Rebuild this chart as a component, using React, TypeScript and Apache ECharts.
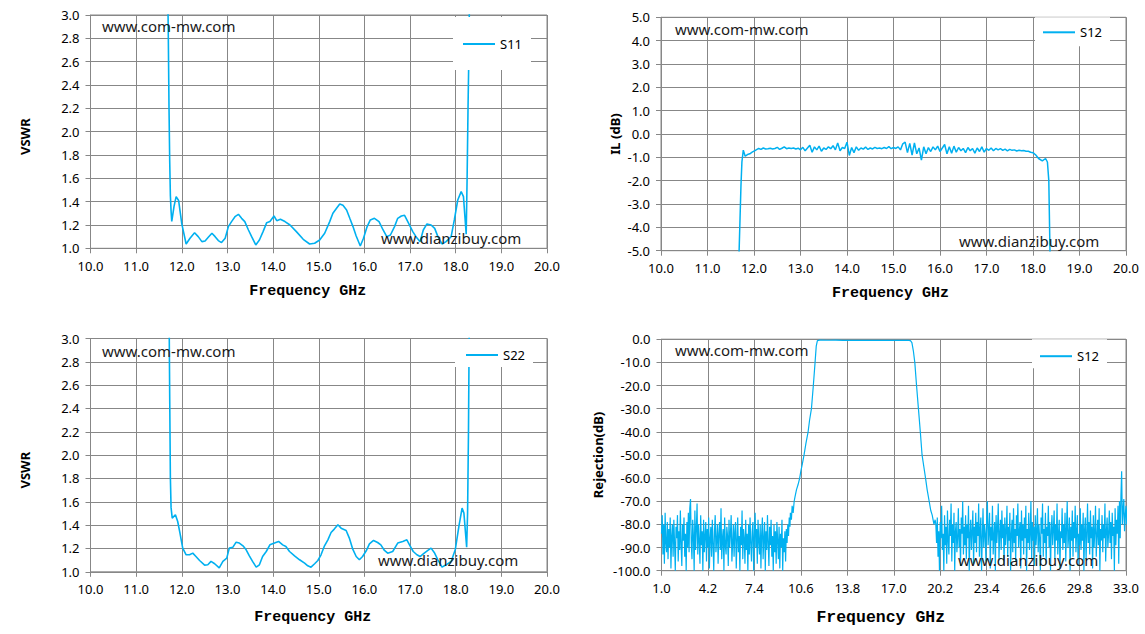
import React, { useEffect, useRef } from "react";
import * as echarts from "echarts";

// ---------------- DATA ----------------
const freqTicksVswr = { min: 10, max: 20, interval: 1 };

// S11 VSWR, [GHz, VSWR]
const s11Points: number[][] = [
  [11.69, 3.3], [11.705, 2.8], [11.72, 2.2], [11.735, 1.75], [11.75, 1.45], [11.765, 1.32], [11.78, 1.23],
  [11.83, 1.36], [11.876, 1.443], [11.93, 1.41], [12.0, 1.21], [12.095, 1.037], [12.18, 1.086], [12.28, 1.134],
  [12.36, 1.1], [12.44, 1.057], [12.51, 1.063], [12.58, 1.094], [12.66, 1.129], [12.73, 1.1], [12.8, 1.066],
  [12.87, 1.049], [12.95, 1.086], [13.02, 1.186], [13.09, 1.229], [13.165, 1.271], [13.24, 1.291], [13.31, 1.257],
  [13.38, 1.229], [13.46, 1.157], [13.53, 1.1], [13.62, 1.029], [13.7, 1.071], [13.78, 1.143], [13.86, 1.22],
  [13.93, 1.229], [14.02, 1.277], [14.08, 1.237], [14.16, 1.249], [14.26, 1.229], [14.37, 1.2], [14.51, 1.143],
  [14.66, 1.077], [14.8, 1.037], [14.91, 1.043], [15.02, 1.071], [15.13, 1.129], [15.24, 1.229], [15.31, 1.3],
  [15.39, 1.343], [15.46, 1.38], [15.53, 1.369], [15.61, 1.329], [15.68, 1.257], [15.75, 1.186], [15.82, 1.106],
  [15.91, 1.02], [15.98, 1.086], [16.06, 1.186], [16.13, 1.243], [16.22, 1.257], [16.32, 1.229], [16.41, 1.157],
  [16.49, 1.1], [16.57, 1.114], [16.66, 1.186], [16.73, 1.257], [16.81, 1.277], [16.88, 1.283], [16.95, 1.229],
  [17.06, 1.143], [17.13, 1.1], [17.22, 1.057], [17.29, 1.157], [17.37, 1.209], [17.46, 1.2], [17.54, 1.171],
  [17.61, 1.1], [17.7, 1.037], [17.79, 1.057], [17.9, 1.1], [17.97, 1.243], [18.045, 1.414], [18.12, 1.486],
  [18.17, 1.443], [18.23, 1.12], [18.25, 1.6], [18.27, 2.2], [18.29, 2.7], [18.305, 3.3],
];

// S22 VSWR, [GHz, VSWR]
const s22Points: number[][] = [
  [11.72, 3.3], [11.735, 2.5], [11.75, 1.8], [11.765, 1.55], [11.79, 1.46], [11.86, 1.489], [11.91, 1.431],
  [11.96, 1.331], [12.02, 1.203], [12.095, 1.146], [12.17, 1.146], [12.24, 1.16], [12.31, 1.131], [12.39, 1.097],
  [12.5, 1.057], [12.57, 1.06], [12.64, 1.089], [12.72, 1.069], [12.82, 1.034], [12.9, 1.089], [12.985, 1.117],
  [13.04, 1.203], [13.12, 1.211], [13.19, 1.254], [13.26, 1.246], [13.34, 1.223], [13.41, 1.189], [13.48, 1.137],
  [13.55, 1.089], [13.63, 1.04], [13.7, 1.06], [13.77, 1.131], [13.85, 1.174], [13.93, 1.231], [14.03, 1.246],
  [14.12, 1.26], [14.21, 1.231], [14.28, 1.217], [14.36, 1.174], [14.47, 1.137], [14.58, 1.103], [14.69, 1.074],
  [14.76, 1.051], [14.83, 1.04], [14.91, 1.069], [14.98, 1.097], [15.05, 1.146], [15.12, 1.217], [15.2, 1.274],
  [15.27, 1.337], [15.34, 1.366], [15.42, 1.403], [15.49, 1.374], [15.6, 1.354], [15.67, 1.289], [15.745, 1.194],
  [15.82, 1.131], [15.89, 1.103], [15.96, 1.131], [16.04, 1.18], [16.11, 1.24], [16.2, 1.269], [16.29, 1.251],
  [16.36, 1.231], [16.44, 1.183], [16.51, 1.16], [16.62, 1.174], [16.73, 1.246], [16.84, 1.26], [16.93, 1.274],
  [17.0, 1.223], [17.07, 1.174], [17.15, 1.146], [17.22, 1.131], [17.29, 1.154], [17.39, 1.183], [17.46, 1.203],
  [17.53, 1.166], [17.61, 1.103], [17.7, 1.04], [17.79, 1.06], [17.9, 1.089], [17.99, 1.189], [18.07, 1.389],
  [18.14, 1.546], [18.18, 1.503], [18.24, 1.21], [18.26, 1.5], [18.28, 2.2], [18.3, 3.3],
];

// S12 insertion loss (dB)
const ilLowEdge: number[][] = [
  [11.66, -5.6], [11.68, -5.0], [11.7, -3.6], [11.72, -2.2], [11.74, -1.2], [11.77, -0.69], [11.81, -0.95],
  [11.86, -0.88], [11.91, -0.85], [11.96, -0.78], [12.03, -0.7],
];
const ilRippleStart = 12.1; // GHz, sweep start of the ripple samples
const ilRippleStep = 0.05; // GHz, sweep step
const ilRipple: number[] = [
  -0.62, -0.66, -0.6, -0.64, -0.63, -0.61, -0.64, -0.62, -0.57, -0.66,
  -0.61, -0.55, -0.63, -0.6, -0.62, -0.6, -0.64, -0.61, -0.68, -0.57,
  -0.72, -0.6, -0.48, -0.78, -0.55, -0.68, -0.52, -0.74, -0.6, -0.66,
  -0.55, -0.63, -0.5, -0.68, -0.38, -0.72, -0.58, -0.62, -0.35, -0.92,
  -0.58, -0.8, -0.55, -0.7, -0.6, -0.65, -0.56, -0.66, -0.6, -0.64,
  -0.57, -0.62, -0.6, -0.63, -0.58, -0.62, -0.54, -0.63, -0.58, -0.62,
  -0.55, -0.68, -0.42, -0.35, -0.8, -0.4, -0.9, -0.38, -0.85, -0.6,
  -1.12, -0.55, -0.85, -0.58, -0.75, -0.55, -0.68, -0.52, -0.75, -0.6,
  -0.45, -0.85, -0.55, -0.82, -0.52, -0.78, -0.58, -0.72, -0.62, -0.8,
  -0.58, -0.72, -0.62, -0.82, -0.6, -0.75, -0.55, -0.78, -0.62, -0.7,
  -0.6, -0.72, -0.62, -0.68, -0.63, -0.7, -0.65, -0.72, -0.66, -0.7,
  -0.68, -0.73, -0.7, -0.72, -0.71, -0.74, -0.74, -0.78,
];
const ilHighEdge: number[][] = [
  [18.0, -0.8], [18.06, -0.9], [18.12, -1.05], [18.2, -1.15], [18.27, -1.05], [18.31, -1.2], [18.34, -2.0], [18.37, -5.6],
];

// S12 rejection (dB), wideband sweep 1..33 GHz
const rejAxisStart = 1.0;
const rejAxisEnd = 33.0;
const rejAxisStep = 3.2;
const rejLowStart = 1.0;
const rejLowStep = 0.05;
const rejLowNoise: number[] = [
  -84, -76, -93, -80, -97, -75, -88, -92, -79, -95,
  -82, -90, -77, -99, -85, -80, -94, -78, -88, -100,
  -81, -86, -76, -96, -83, -91, -74, -89, -98, -80,
  -87, -77, -94, -84, -100, -79, -90, -75, -92, -73,
  -69, -88, -95, -78, -85, -100, -74, -91, -82, -71,
  -93, -80, -87, -97, -76, -89, -83, -100, -78, -92,
  -85, -79, -96, -82, -90, -77, -99, -86, -81, -94,
  -78, -88, -100, -83, -76, -92, -87, -80, -97, -84,
  -79, -91, -73, -95, -86, -82, -100, -77, -89, -93,
  -81, -85, -98, -78, -90, -84, -76, -96, -88, -80,
  -94, -83, -79, -99, -87, -77, -92, -85, -100, -81,
  -89, -74, -95, -82, -86, -97, -78, -91, -84, -100,
  -80, -93, -77, -88, -96, -83, -79, -100, -85, -75,
  -90, -82, -97, -78, -87, -93, -80, -99, -84, -77,
  -95, -86, -79, -100, -83, -91, -76, -88, -98, -81,
  -89, -78, -94, -85, -100, -80, -92, -83, -97, -79,
  -87, -95, -81, -99, -84, -90, -78, -100, -86, -92,
  -83, -96,
];
const rejSkirt: number[][] = [
  [9.6, -82], [9.65, -88], [9.7, -80], [9.75, -85], [9.8, -77], [9.85, -81], [9.88, -75], [9.95, -78],
  [10.0, -72], [10.07, -75], [10.14, -70], [10.2, -68], [10.3, -65], [10.4, -63], [10.52, -60], [10.6, -57],
  [10.7, -54], [10.82, -50], [10.95, -45], [11.1, -40], [11.2, -35], [11.33, -30], [11.46, -20], [11.58, -10],
  [11.66, -3], [11.74, -0.6], [11.9, -0.4], [12.5, -0.45], [13.0, -0.4], [13.5, -0.5], [14.0, -0.45],
  [14.5, -0.5], [15.0, -0.55], [15.5, -0.5], [16.0, -0.45], [16.5, -0.5], [17.0, -0.45], [17.5, -0.5],
  [18.0, -0.5], [18.15, -0.6], [18.25, -1.5], [18.35, -5], [18.45, -10], [18.57, -20], [18.7, -30],
  [18.83, -40], [18.95, -50], [19.07, -55], [19.19, -60], [19.3, -65], [19.44, -70], [19.55, -74],
  [19.65, -76], [19.77, -80], [19.85, -78],
];
const rejHighStart = 19.9;
const rejHighStep = 0.05;
const rejHighNoise: number[] = [
  -80, -88, -77, -94, -83, -100, -79, -86, -72, -91,
  -84, -100, -76, -89, -81, -97, -74, -87, -93, -78,
  -85, -71, -96, -80, -88, -75, -100, -83, -79, -92,
  -86, -73, -90, -82, -98, -77, -84, -70, -93, -81,
  -89, -76, -95, -80, -86, -72, -100, -84, -78, -91,
  -83, -74, -97, -81, -88, -75, -92, -79, -85, -71,
  -94, -82, -77, -100, -86, -73, -90, -80, -84, -96,
  -78, -70, -89, -83, -75, -99, -81, -87, -72, -93,
  -85, -79, -100, -76, -88, -82, -71, -95, -84, -78,
  -91, -74, -86, -80, -97, -77, -89, -83, -72, -94,
  -81, -87, -75, -100, -84, -78, -92, -73, -88, -82,
  -96, -76, -85, -71, -90, -83, -79, -99, -74, -87,
  -80, -93, -77, -86, -72, -100, -82, -88, -75, -91,
  -84, -70, -95, -79, -87, -81, -98, -76, -89, -83,
  -73, -92, -80, -86, -100, -77, -84, -71, -94, -82,
  -88, -75, -97, -81, -85, -72, -90, -79, -100, -83,
  -76, -89, -82, -74, -95, -80, -87, -71, -93, -84,
  -78, -99, -83, -86, -73, -91, -80, -88, -75, -96,
  -82, -70, -90, -85, -77, -100, -81, -87, -74, -94,
  -79, -86, -72, -92, -83, -76, -98, -84, -89, -73,
  -91, -80, -87, -75, -100, -82, -77, -95, -84, -71,
  -88, -79, -93, -74, -86, -81, -99, -76, -90, -83,
  -72, -94, -85, -78, -89, -73, -100, -82, -87, -76,
  -92, -80, -86, -71, -96, -83, -77, -90, -84, -74,
  -88, -79, -95, -75, -85, -81, -100, -73, -89, -78,
  -84, -72, -97, -70, -86, -68, -57, -80, -74, -69,
  -83, -76, -72, -80, -73,
];

const legendNames = ["S11", "S12", "S22", "S12"];
const watermarkTop = "www.com-mw.com";
const watermarkBottom = "www.dianzibuy.com";

// ---------------- STYLE ----------------
const BLUE = "#00b0f0";
const GRIDC = "#878787";
const FONT = '"Noto Sans", "DejaVu Sans", sans-serif';
const NAME_FONT = '"Liberation Mono", "DejaVu Sans Mono", monospace';

const fmt1 = (v: number) => v.toFixed(1);

function xAxisOpt(gridIndex: number, min: number, max: number, interval: number, o: any) {
  return {
    type: "value",
    gridIndex,
    min,
    max,
    interval,
    name: "Frequency GHz",
    nameLocation: "middle",
    nameGap: o.nameGap,
    nameTextStyle: {
      fontFamily: NAME_FONT,
      fontWeight: "bold",
      fontSize: o.nameSize,
      color: "#000",
      padding: [0, o.namePadRight, 0, 0],
    },
    axisLine: { show: true, onZero: false, lineStyle: { color: GRIDC, width: 1 } },
    axisTick: { show: true, length: 5, inside: false, lineStyle: { color: GRIDC } },
    axisLabel: {
      margin: 11,
      fontFamily: FONT,
      fontSize: 13,
      color: "#000",
      formatter: o.formatter || fmt1,
    },
    splitLine: { show: true, lineStyle: { color: GRIDC, width: 1 } },
  };
}

function yAxisOpt(gridIndex: number, name: string, min: number, max: number, interval: number, o: any) {
  return {
    type: "value",
    gridIndex,
    min,
    max,
    interval,
    name,
    nameLocation: "middle",
    nameGap: o.nameGap,
    nameTextStyle: {
      fontFamily: FONT,
      fontWeight: "bold",
      fontSize: 13,
      color: "#000",
      padding: [0, o.namePadRight || 0, 0, 0],
    },
    axisLine: { show: true, onZero: false, lineStyle: { color: GRIDC, width: 1 } },
    axisTick: { show: true, length: 5, inside: false, lineStyle: { color: GRIDC } },
    axisLabel: { margin: 11, fontFamily: FONT, fontSize: 13, color: "#000", formatter: fmt1 },
    splitLine: { show: true, lineStyle: { color: GRIDC, width: 1 } },
  };
}

function legendOpt(name: string, left: number, top: number, padding: number[]) {
  return {
    show: true,
    left,
    top,
    orient: "horizontal",
    backgroundColor: "#ffffff",
    padding,
    itemWidth: 32,
    itemHeight: 2,
    itemGap: 0,
    selectedMode: false,
    textStyle: { fontFamily: FONT, fontSize: 13, color: "#000", lineHeight: 14 },
    data: [{ name, icon: "rect", itemStyle: { color: BLUE } }],
  };
}

function wm(text: string, x: number, y: number) {
  return {
    type: "text",
    x,
    y,
    z: 50,
    silent: true,
    style: {
      text,
      fontFamily: FONT,
      fontSize: 15,
      fill: "#1a1a1a",
      verticalAlign: "middle",
      align: "left",
    },
  };
}

export default function App() {
  const ref = useRef<HTMLDivElement>(null);

  useEffect(() => {
    if (!ref.current) return;
    const chart = echarts.init(ref.current, undefined, { renderer: "svg" });

    const ilData: number[][] = [
      ...ilLowEdge,
      ...ilRipple.map((v, i) => [ilRippleStart + i * ilRippleStep, v]),
      ...ilHighEdge,
    ];
    const rejData: number[][] = [
      ...rejLowNoise.map((v, i) => [rejLowStart + i * rejLowStep, v]),
      ...rejSkirt,
      ...rejHighNoise.map((v, i) => [rejHighStart + i * rejHighStep, v]),
    ].map((p) => [p[0] - rejAxisStart, p[1]]);

    const lineSeries = (name: string, idx: number, data: number[][], width: number) => ({
      type: "line",
      name,
      xAxisIndex: idx,
      yAxisIndex: idx,
      data,
      symbol: "none",
      showSymbol: false,
      clip: true,
      silent: true,
      lineStyle: { color: BLUE, width },
      itemStyle: { color: BLUE },
    });

    chart.setOption({
      animation: false,
      backgroundColor: "#ffffff",
      grid: [
        { left: 90.5, top: 15, width: 456.5, height: 233.3, show: true, borderColor: GRIDC, borderWidth: 1 },
        { left: 661, top: 17.3, width: 465, height: 233.4, show: true, borderColor: GRIDC, borderWidth: 1 },
        { left: 90.5, top: 338.5, width: 456.5, height: 233.3, show: true, borderColor: GRIDC, borderWidth: 1 },
        { left: 661.5, top: 339.2, width: 464.5, height: 231.5, show: true, borderColor: GRIDC, borderWidth: 1 },
      ],
      xAxis: [
        xAxisOpt(0, freqTicksVswr.min, freqTicksVswr.max, freqTicksVswr.interval, { nameGap: 36, nameSize: 15, namePadRight: 22 }),
        xAxisOpt(1, freqTicksVswr.min, freqTicksVswr.max, freqTicksVswr.interval, { nameGap: 35, nameSize: 15, namePadRight: 6 }),
        xAxisOpt(2, freqTicksVswr.min, freqTicksVswr.max, freqTicksVswr.interval, { nameGap: 38, nameSize: 15, namePadRight: 12 }),
        xAxisOpt(3, 0, rejAxisEnd - rejAxisStart, rejAxisStep, {
          nameGap: 38,
          nameSize: 16.5,
          namePadRight: 26,
          formatter: (v: number) => (v + rejAxisStart).toFixed(1),
        }),
      ],
      yAxis: [
        yAxisOpt(0, "VSWR", 1, 3, 0.2, { nameGap: 59, namePadRight: 10 }),
        yAxisOpt(1, "IL (dB)", -5, 5, 1, { nameGap: 40 }),
        yAxisOpt(2, "VSWR", 1, 3, 0.2, { nameGap: 59, namePadRight: 30 }),
        yAxisOpt(3, "Rejection(dB)", -100, 0, 10, { nameGap: 57 }),
      ],
      legend: [
        legendOpt(legendNames[0], 453, 17, [20, 9, 19, 10]),
        legendOpt(legendNames[1], 1035, 17.3, [8, 8, 7, 8]),
        legendOpt(legendNames[2], 455, 339, [9, 8, 5, 11]),
        legendOpt(legendNames[3], 1032, 339.2, [10, 8, 5, 8]),
      ],
      series: [
        lineSeries(legendNames[0], 0, s11Points, 1.6),
        lineSeries(legendNames[1], 1, ilData, 1.5),
        lineSeries(legendNames[2], 2, s22Points, 1.6),
        lineSeries(legendNames[3], 3, rejData, 1.2),
      ],
      graphic: [
        wm(watermarkTop, 102, 26),
        wm(watermarkBottom, 381, 238),
        wm(watermarkTop, 675, 29),
        wm(watermarkBottom, 959, 241),
        wm(watermarkTop, 102, 350.5),
        wm(watermarkBottom, 378, 560),
        wm(watermarkTop, 675, 350),
        wm(watermarkBottom, 958, 560),
      ],
    });

    return () => chart.dispose();
  }, []);

  return (
    <div
      ref={ref}
      style={{ position: "fixed", left: 0, top: 0, width: 1145, height: 634, background: "#fff" }}
    />
  );
}
